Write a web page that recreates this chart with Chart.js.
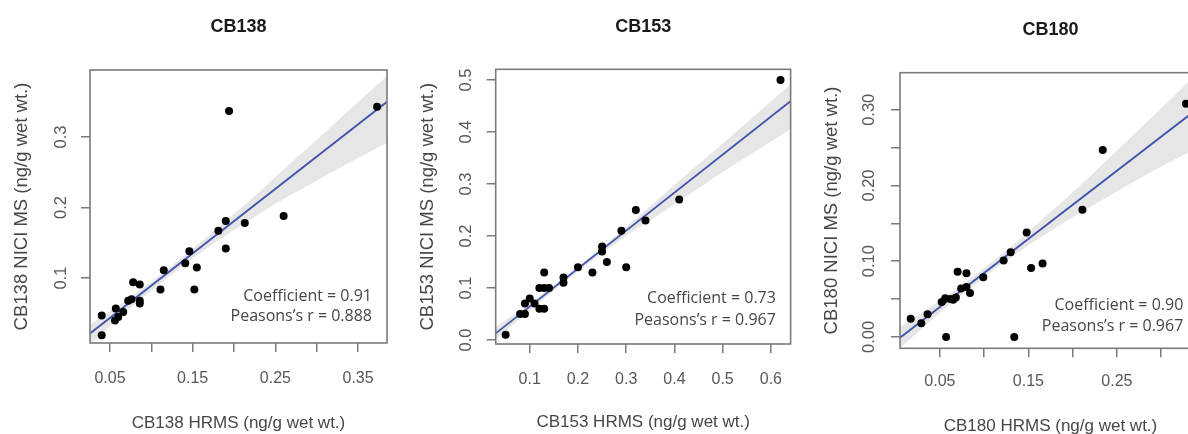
<!DOCTYPE html>
<html>
<head>
<meta charset="utf-8">
<script src="https://cdn.jsdelivr.net/npm/chart.js@4.4.1/dist/chart.umd.min.js"></script>
<style>
  html, body { margin:0; padding:0; background:#fff; width:1188px; height:434px; overflow:hidden; position:relative; }
  canvas { position:absolute; top:0; }
</style>
</head>
<body>
<canvas id="c1" width="400" height="434" style="left:0px"></canvas>
<canvas id="c2" width="400" height="434" style="left:400px"></canvas>
<canvas id="c3" width="420" height="437" style="left:800px"></canvas>
<script>
// ---------- CB138 ----------
const hrms138 = [0.040, 0.040, 0.056, 0.057, 0.060, 0.066, 0.072, 0.076, 0.078, 0.086, 0.086, 0.086, 0.111, 0.115, 0.141, 0.146, 0.152, 0.155, 0.181, 0.190, 0.190, 0.194, 0.213, 0.260, 0.373];
const nici138 = [0.019, 0.047, 0.040, 0.057, 0.045, 0.052, 0.068, 0.070, 0.094, 0.091, 0.068, 0.064, 0.084, 0.111, 0.121, 0.138, 0.084, 0.115, 0.167, 0.181, 0.142, 0.337, 0.178, 0.188, 0.343];
const fitX138 = [0.0258, 0.385];
const fitY138 = [0.0215, 0.350];
const bandX138 = [0.0258, 0.06, 0.10, 0.14, 0.18, 0.22, 0.26, 0.30, 0.34, 0.385];
const bandHi138 = [0.034, 0.061, 0.095, 0.132, 0.171, 0.211, 0.254, 0.296, 0.339, 0.386];
const bandLo138 = [0.006, 0.043, 0.082, 0.119, 0.153, 0.183, 0.212, 0.238, 0.264, 0.292];
const xTicks138 = [0.05, 0.10, 0.15, 0.20, 0.25, 0.30, 0.35];
const xLabels138 = ['0.05', '', '0.15', '', '0.25', '', '0.35'];
const yTicks138 = [0.1, 0.2, 0.3];
const yLabels138 = ['0.1', '0.2', '0.3'];
const stats138 = ['Coefficient = 0.91', 'Peasons\u2019s r = 0.888'];

// ---------- CB153 ----------
const hrms153 = [0.05, 0.08, 0.09, 0.09, 0.10, 0.11, 0.12, 0.12, 0.13, 0.13, 0.13, 0.14, 0.17, 0.17, 0.20, 0.23, 0.25, 0.25, 0.26, 0.29, 0.30, 0.32, 0.34, 0.41, 0.62];
const nici153 = [0.01, 0.05, 0.05, 0.07, 0.08, 0.07, 0.10, 0.06, 0.10, 0.13, 0.06, 0.10, 0.12, 0.11, 0.14, 0.13, 0.18, 0.17, 0.15, 0.21, 0.14, 0.25, 0.23, 0.27, 0.50];
const fitX153 = [0.0294, 0.642];
const fitY153 = [0.0128, 0.460];
const bandX153 = [0.0294, 0.10, 0.20, 0.30, 0.40, 0.50, 0.642];
const bandHi153 = [0.025, 0.071, 0.142, 0.218, 0.298, 0.378, 0.493];
const bandLo153 = [0.001, 0.057, 0.132, 0.200, 0.261, 0.323, 0.406];
const xTicks153 = [0.1, 0.2, 0.3, 0.4, 0.5, 0.6];
const xLabels153 = ['0.1', '0.2', '0.3', '0.4', '0.5', '0.6'];
const yTicks153 = [0.0, 0.1, 0.2, 0.3, 0.4, 0.5];
const yLabels153 = ['0.0', '0.1', '0.2', '0.3', '0.4', '0.5'];
const stats153 = ['Coefficient = 0.73', 'Peasons\u2019s r = 0.967'];

// ---------- CB180 ----------
const hrms180 = [0.017, 0.029, 0.036, 0.052, 0.056, 0.057, 0.062, 0.065, 0.068, 0.070, 0.074, 0.080, 0.080, 0.084, 0.099, 0.122, 0.130, 0.134, 0.148, 0.153, 0.166, 0.211, 0.234, 0.328];
const nici180 = [0.024, 0.018, 0.030, 0.046, 0.051, 0.000, 0.050, 0.049, 0.052, 0.086, 0.064, 0.084, 0.066, 0.058, 0.079, 0.101, 0.112, 0.000, 0.138, 0.091, 0.097, 0.168, 0.247, 0.308];
const fitX180 = [0.0049, 0.345];
const fitY180 = [-0.001, 0.305];
const bandX180 = [0.0049, 0.05, 0.10, 0.15, 0.20, 0.25, 0.30, 0.345];
const bandHi180 = [0.013, 0.048, 0.091, 0.139, 0.191, 0.246, 0.302, 0.353];
const bandLo180 = [-0.015, 0.032, 0.079, 0.121, 0.158, 0.192, 0.225, 0.252];
const xTicks180 = [0.05, 0.10, 0.15, 0.20, 0.25, 0.30];
const xLabels180 = ['0.05', '', '0.15', '', '0.25', ''];
const yTicks180 = [0.00, 0.05, 0.10, 0.15, 0.20, 0.25, 0.30];
const yLabels180 = ['0.00', '', '0.10', '', '0.20', '', '0.30'];
const stats180 = ['Coefficient = 0.90', 'Peasons\u2019s r = 0.967'];

Chart.defaults.font.family = '"Liberation Sans", Arial, Helvetica, sans-serif';
Chart.defaults.animation = false;

const TICK_COLOR = '#575757';
const AXIS_COLOR = '#7a7a7a';
const pts = (xs, ys) => xs.map((x, i) => ({x: x, y: ys[i]}));

function makePanel(id, cfg) {
  const boxPlugin = {
    id: 'boxAndStats' + id,
    afterDatasetsDraw(chart) {
      const a = chart.chartArea, ctx = chart.ctx;
      ctx.save();
      ctx.strokeStyle = AXIS_COLOR;
      ctx.lineWidth = 1.6;
      ctx.strokeRect(a.left, a.top, a.right - a.left, a.bottom - a.top);
      ctx.fillStyle = '#474747';
      ctx.font = '16px "Open Sans", sans-serif';
      ctx.textAlign = 'right';
      ctx.textBaseline = 'middle';
      ctx.fillText(cfg.stats[0], a.right - cfg.statInset, a.bottom - cfg.statY[0]);
      ctx.fillText(cfg.stats[1], a.right - cfg.statInset, a.bottom - cfg.statY[1]);
      ctx.restore();
    }
  };
  const H = document.getElementById(id).height;
  new Chart(document.getElementById(id), {
    type: 'scatter',
    data: {
      datasets: [
        { type: 'scatter', data: pts(cfg.hx, cfg.ny), pointRadius: 4, pointHoverRadius: 4,
          backgroundColor: '#000', borderWidth: 0 },
        { type: 'line', data: pts(cfg.fx, cfg.fy), borderColor: '#4254ab', borderWidth: 1.8,
          pointRadius: 0, fill: false },
        { type: 'line', data: pts(cfg.bx, cfg.bh), borderWidth: 0, borderColor: 'rgba(0,0,0,0)',
          pointRadius: 0, fill: '+1', backgroundColor: '#e6e6e6', cubicInterpolationMode: 'monotone' },
        { type: 'line', data: pts(cfg.bx, cfg.bl), borderWidth: 0, borderColor: 'rgba(0,0,0,0)',
          pointRadius: 0, fill: false, cubicInterpolationMode: 'monotone' }
      ]
    },
    options: {
      responsive: false,
      devicePixelRatio: 1,
      layout: { padding: { left: 0, top: 0, right: cfg.padRight, bottom: 0 } },
      plugins: {
        legend: { display: false },
        tooltip: { enabled: false },
        title: { display: true, text: cfg.title, fullSize: false, color: '#1a1a1a',
          font: { size: 18, weight: 'bold', lineHeight: 1.2 }, padding: { top: cfg.titleTop - 0.6, bottom: cfg.titleBottom - 0.6 } }
      },
      scales: {
        x: {
          type: 'linear', position: 'bottom', min: cfg.xmin, max: cfg.xmax,
          afterFit: s => { s.height = H - cfg.boxBottom; },
          afterBuildTicks: s => { s.ticks = cfg.xt.map(v => ({ value: v })); },
          ticks: { autoSkip: false, maxRotation: 0, minRotation: 0, padding: cfg.xPad, color: TICK_COLOR,
            font: { size: 16 }, callback: (v, i) => cfg.xl[i] },
          grid: { drawOnChartArea: false, drawTicks: true, tickLength: 9, color: AXIS_COLOR, lineWidth: 1.5 },
          border: { display: false },
          title: { display: true, text: cfg.xTitle, color: '#474747', font: { size: 17 },
            padding: { top: 0, bottom: cfg.xTitlePad } }
        },
        y: {
          type: 'linear', position: 'left', min: cfg.ymin, max: cfg.ymax,
          afterFit: s => { s.width = cfg.boxLeft; },
          afterBuildTicks: s => { s.ticks = cfg.yt.map(v => ({ value: v })); },
          ticks: { autoSkip: false, minRotation: 90, maxRotation: 90, crossAlign: 'center', padding: cfg.yPad,
            color: TICK_COLOR, font: { size: 16.5 }, callback: (v, i) => cfg.yl[i] },
          grid: { drawOnChartArea: false, drawTicks: true, tickLength: 9, color: AXIS_COLOR, lineWidth: 1.5 },
          border: { display: false },
          title: { display: true, text: cfg.yTitle, color: '#474747', font: { size: 18.5, lineHeight: 1.1 },
            padding: { top: cfg.yTitlePad, bottom: 0 } }
        }
      }
    },
    plugins: [boxPlugin]
  });
}

makePanel('c1', {
  title: 'CB138', xTitle: 'CB138 HRMS (ng/g wet wt.)', yTitle: 'CB138 NICI MS (ng/g wet wt.)',
  hx: hrms138, ny: nici138, fx: fitX138, fy: fitY138, bx: bandX138, bh: bandHi138, bl: bandLo138,
  xt: xTicks138, xl: xLabels138, yt: yTicks138, yl: yLabels138, stats: stats138,
  xmin: 0.0258, xmax: 0.385, ymin: 0.008, ymax: 0.395,
  boxLeft: 90, boxBottom: 343, padRight: 13, titleTop: 16.8, titleBottom: 32.8,
  xPad: 17.4, yPad: 8.2, xTitlePad: 0.8, yTitlePad: 11.5, statInset: 15, statY: [46.3, 26.3]
});
makePanel('c2', {
  title: 'CB153', xTitle: 'CB153 HRMS (ng/g wet wt.)', yTitle: 'CB153 NICI MS (ng/g wet wt.)',
  hx: hrms153, ny: nici153, fx: fitX153, fy: fitY153, bx: bandX153, bh: bandHi153, bl: bandLo153,
  xt: xTicks153, xl: xLabels153, yt: yTicks153, yl: yLabels153, stats: stats153,
  xmin: 0.0294, xmax: 0.641, ymin: -0.0077, ymax: 0.5206,
  boxLeft: 95.7, boxBottom: 344, padRight: 7, titleTop: 16.5, titleBottom: 32.4,
  xPad: 17.4, yPad: 8.9, xTitlePad: 1.8, yTitlePad: 18.1, statInset: 14.7, statY: [45.7, 24]
});
makePanel('c3', {
  title: 'CB180', xTitle: 'CB180 HRMS (ng/g wet wt.)', yTitle: 'CB180 NICI MS (ng/g wet wt.)',
  hx: hrms180, ny: nici180, fx: fitX180, fy: fitY180, bx: bandX180, bh: bandHi180, bl: bandLo180,
  xt: xTicks180, xl: xLabels180, yt: yTicks180, yl: yLabels180, stats: stats180,
  xmin: 0.0049, xmax: 0.345, ymin: -0.015, ymax: 0.349,
  boxLeft: 100, boxBottom: 348.3, padRight: 19, titleTop: 19.8, titleBottom: 32.5,
  xPad: 14.8, yPad: 5.4, xTitlePad: 0.3, yTitlePad: 21.5, statInset: 17.7, statY: [43.3, 22.3]
});
</script>
</body>
</html>
